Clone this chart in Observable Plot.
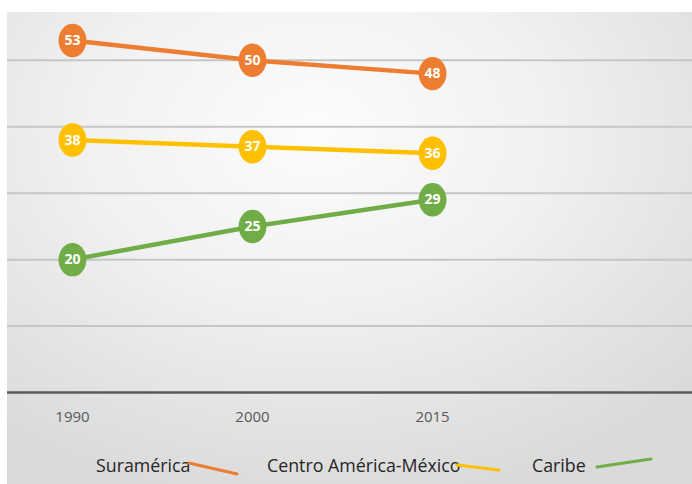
<!DOCTYPE html>
<html>
<head>
<meta charset="utf-8">
<script src="https://cdn.jsdelivr.net/npm/d3@7"></script>
<script src="https://cdn.jsdelivr.net/npm/@observablehq/plot@0.6"></script>
<style>
  html, body { margin: 0; padding: 0; background: #ffffff; }
  #wrap { position: relative; width: 692px; height: 484px; overflow: hidden; font-family: "Open Sans", sans-serif; }
  #bg { position: absolute; left: 7px; top: 12px; right: 0; bottom: 0;
        background: radial-gradient(ellipse 75% 80% at 45% 25%, #fcfcfc 0%, #f1f1f1 45%, #e2e2e2 80%, #dadada 100%); }
  #chart { position: absolute; left: 0; top: 0; }
  #legend { position: absolute; left: 0; top: 0; width: 692px; height: 484px; pointer-events: none; }
  .item { position: absolute; font-size: 17.8px; color: #262626; white-space: nowrap; line-height: 1; }
  .sw { position: absolute; overflow: visible; }
</style>
</head>
<body>
<div id="wrap">
  <div id="bg"></div>
  <div id="chart"></div>
  <div id="legend"></div>
</div>
<script>
const years = ["1990", "2000", "2015"];
const series = ["Suramérica", "Centro América-México", "Caribe"];
const colors = ["#ED7D31", "#FFC000", "#70AD47"];
const suramerica = [53, 50, 48];
const centroAmerica = [38, 37, 36];
const caribe = [20, 25, 29];
const gridValues = [10, 20, 30, 40, 50];

const values = [suramerica, centroAmerica, caribe];
const data = [];
series.forEach((s, si) => values[si].forEach((v, i) => data.push({series: s, idx: i, year: years[i], value: v})));

// slightly tall ellipse symbol for the markers
const ellipse = {
  draw(context, size) {
    const r = Math.sqrt(size / Math.PI);
    const rx = r * 0.9, ry = r * 1.08, k = 0.5523;
    context.moveTo(rx, 0);
    context.bezierCurveTo(rx, ry * k, rx * k, ry, 0, ry);
    context.bezierCurveTo(-rx * k, ry, -rx, ry * k, -rx, 0);
    context.bezierCurveTo(-rx, -ry * k, -rx * k, -ry, 0, -ry);
    context.bezierCurveTo(rx * k, -ry, rx, -ry * k, rx, 0);
    context.closePath();
  }
};

const chart = Plot.plot({
  width: 692,
  height: 484,
  marginLeft: 7,
  marginRight: 0,
  marginTop: 12,
  marginBottom: 92,
  style: {background: "transparent", fontFamily: "'Open Sans', sans-serif", overflow: "visible"},
  x: {type: "linear", domain: [-0.361, 3.444], axis: null, label: null},
  y: {domain: [0, 57.2], axis: null, label: null},
  color: {domain: series, range: colors},
  marks: [
    Plot.ruleY(gridValues, {stroke: "#c6c6c6", strokeWidth: 2}),
    Plot.ruleY([0], {stroke: "#5a5a5a", strokeWidth: 2.5}),
    Plot.axisX({ticks: [0, 1, 2], tickFormat: i => years[i], tickSize: 0, tickPadding: 19,
                fontSize: 15, color: "#595959", fill: "#595959", label: null}),
    Plot.line(data, {x: "idx", y: "value", z: "series", stroke: "series", strokeWidth: 4.5}),
    Plot.dot(data, {x: "idx", y: "value", fill: "series", r: 15.5, symbol: ellipse, stroke: "none"}),
    Plot.text(data, {x: "idx", y: "value", text: d => String(d.value), fill: "white",
                     fontSize: 14, fontWeight: 700})
  ]
});
document.getElementById("chart").appendChild(chart);

// legend (bottom), with slanted line swatches as in the reference
const legendLayout = [
  {text: series[0], left: 96, sw: [189, 463, 237, 474]},
  {text: series[1], left: 267, sw: [457, 465, 499, 470]},
  {text: series[2], left: 532, sw: [597, 467, 651, 459]}
];
const legend = document.getElementById("legend");
const ns = "http://www.w3.org/2000/svg";
const svg = document.createElementNS(ns, "svg");
svg.setAttribute("width", 692); svg.setAttribute("height", 484);
svg.setAttribute("class", "sw");
svg.style.left = "0px"; svg.style.top = "0px";
legendLayout.forEach((l, i) => {
  const d = document.createElement("div");
  d.className = "item";
  d.textContent = l.text;
  d.style.left = l.left + "px";
  d.style.top = "457px";
  legend.appendChild(d);
  const ln = document.createElementNS(ns, "line");
  ln.setAttribute("x1", l.sw[0]); ln.setAttribute("y1", l.sw[1]);
  ln.setAttribute("x2", l.sw[2]); ln.setAttribute("y2", l.sw[3]);
  ln.setAttribute("stroke", colors[i]); ln.setAttribute("stroke-width", 3);
  ln.setAttribute("stroke-linecap", "round");
  svg.appendChild(ln);
});
legend.appendChild(svg);
</script>
</body>
</html>
